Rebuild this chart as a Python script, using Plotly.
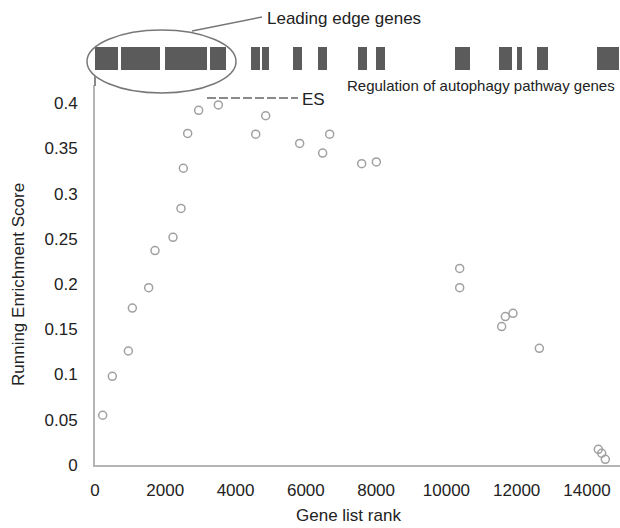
import plotly.graph_objects as go

# ---- data ----
gene_rank = [219, 493, 949, 1063, 1527, 1707, 2220, 2447, 2514, 2637, 2950, 3510,
             4573, 4857, 5824, 6478, 6678, 7589, 8006, 10378, 10378, 11573, 11677,
             11895, 12645, 14323, 14419, 14522]
running_es = [0.055, 0.098, 0.126, 0.1735, 0.196, 0.237, 0.2516, 0.2836, 0.328, 0.3665,
              0.392, 0.398, 0.3657, 0.386, 0.3554, 0.3448, 0.3657, 0.333, 0.335, 0.2173,
              0.196, 0.153, 0.164, 0.1676, 0.129, 0.0173, 0.013, 0.0063]

# pathway gene hit blocks (rank start / end)
hit_start = [0, 731, 1992, 3281, 4431, 4752, 5643, 6355, 7493, 7997, 10245, 11505, 12001, 12570, 14277]
hit_end = [692, 1878, 3207, 3748, 4724, 4989, 5928, 6640, 7777, 8281, 10692, 11904, 12171, 12920, 14940]

x_tick_vals = [0, 2000, 4000, 6000, 8000, 10000, 12000, 14000]
x_tick_text = ["0", "2000", "4000", "6000", "8000", "10000", "12000", "14000"]
y_tick_vals = [0, 0.05, 0.1, 0.15, 0.2, 0.25, 0.3, 0.35, 0.4]
y_tick_text = ["0", "0.05", "0.1", "0.15", "0.2", "0.25", "0.3", "0.35", "0.4"]

W, H = 620, 528
ML, MR, MT, MB = 95, 0, 10, 63
PW, PH = W - ML - MR, H - MT - MB


def px(x):
    return (x - ML) / PW


def py(y):
    return (H - MB - y) / PH


FONT = "Liberation Sans, Arial, Helvetica, sans-serif"
TXT = "#222222"
AXC = "#b4b4b4"

fig = go.Figure()

fig.add_trace(go.Bar(
    x=[(s + e) / 2 for s, e in zip(hit_start, hit_end)],
    y=[1] * len(hit_start),
    width=[e - s for s, e in zip(hit_start, hit_end)],
    base=0,
    marker=dict(color="#5b5b5b", line=dict(color="white", width=1)),
    xaxis="x", yaxis="y2", showlegend=False, hoverinfo="skip",
))

fig.add_trace(go.Scatter(
    x=gene_rank, y=running_es, mode="markers",
    marker=dict(symbol="circle-open", size=8, color="#a0a0a0", line=dict(width=1.5, color="#a0a0a0")),
    xaxis="x", yaxis="y", showlegend=False,
))

fig.update_layout(
    width=W, height=H,
    margin=dict(l=ML, r=MR, t=MT, b=MB, pad=0),
    paper_bgcolor="white", plot_bgcolor="white",
    font=dict(family=FONT, size=17, color=TXT),
    bargap=0,
    xaxis=dict(range=[0, 14940], tickvals=x_tick_vals, ticktext=x_tick_text,
               showgrid=False, zeroline=False, showline=True, linecolor=AXC, linewidth=2,
               ticks="outside", ticklen=9, tickcolor="rgba(0,0,0,0)",
               tickfont=dict(size=17, color=TXT)),
    yaxis=dict(range=[0, 0.42], domain=[0, py(85)], tickvals=y_tick_vals, ticktext=y_tick_text,
               showgrid=False, zeroline=False, showline=True, linecolor=AXC, linewidth=2,
               ticks="outside", ticklen=12, tickcolor="rgba(0,0,0,0)",
               tickfont=dict(size=17, color=TXT)),
    yaxis2=dict(range=[0, 1], domain=[py(71), py(47)], visible=False, anchor="x"),
)

fig.add_shape(type="circle", xref="paper", yref="paper",
              x0=px(87), x1=px(236), y0=py(93), y1=py(30),
              line=dict(color="#777777", width=1.5))
fig.add_shape(type="line", xref="paper", yref="paper",
              x0=px(95), y0=py(76), x1=px(95), y1=py(86),
              line=dict(color="#8a8a8a", width=2))
fig.add_shape(type="line", xref="paper", yref="paper",
              x0=px(192), y0=py(31), x1=px(262), y1=py(17),
              line=dict(color="#777777", width=1.5))
fig.add_shape(type="line", xref="paper", yref="paper",
              x0=px(207), y0=py(98), x1=px(298), y1=py(98),
              line=dict(color="#8a8a8a", width=2, dash="9px,3px"))

fig.add_annotation(text="Leading edge genes", xref="paper", yref="paper",
                   x=px(265), y=py(18), xanchor="left", yanchor="middle",
                   showarrow=False, font=dict(size=17, color=TXT))
fig.add_annotation(text="ES", xref="paper", yref="paper",
                   x=px(300), y=py(100), xanchor="left", yanchor="middle",
                   showarrow=False, font=dict(size=17, color=TXT))
fig.add_annotation(text="Regulation of autophagy pathway genes", xref="paper", yref="paper",
                   x=px(617), y=py(86), xanchor="right", yanchor="middle",
                   showarrow=False, font=dict(size=15, color=TXT))
fig.add_annotation(text="Gene list rank", xref="paper", yref="paper",
                   x=px(348), y=py(515), xanchor="center", yanchor="middle",
                   showarrow=False, font=dict(size=17, color=TXT))
fig.add_annotation(text="Running Enrichment Score", xref="paper", yref="paper",
                   x=px(18), y=py(285), xanchor="center", yanchor="middle", textangle=-90,
                   showarrow=False, font=dict(size=17, color=TXT))

fig.write_html("out.html", config={"displayModeBar": False},
               post_script="document.body.style.margin='0';document.body.style.padding='0';")
